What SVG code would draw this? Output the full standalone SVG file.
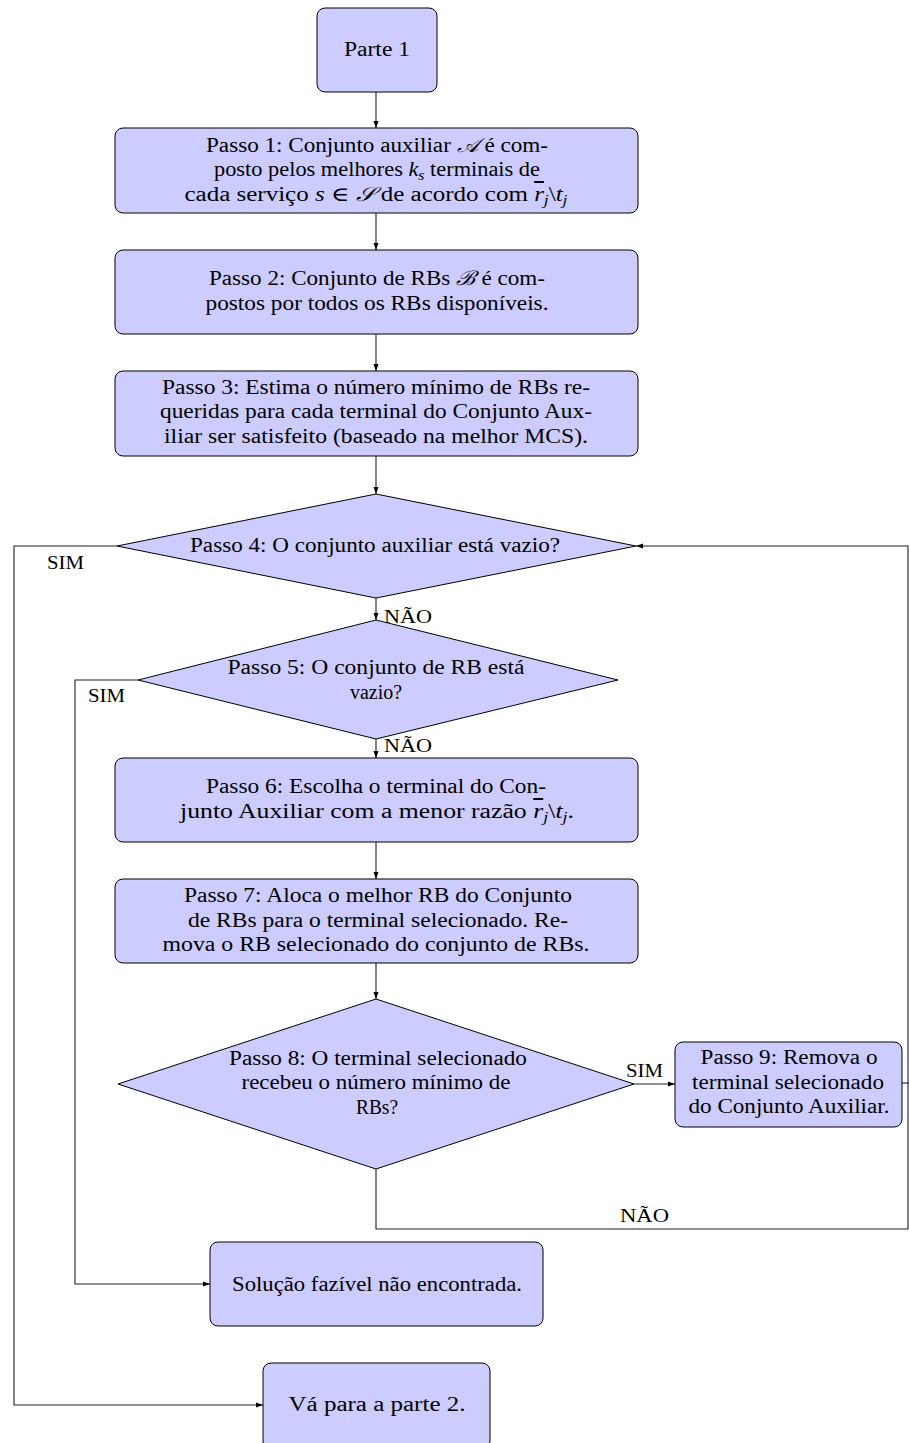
<svg xmlns="http://www.w3.org/2000/svg" width="909" height="1443" viewBox="0 0 909 1443">
<style>
.box{fill:#ccccff;stroke:#000;stroke-width:1}
.t{font-family:"Liberation Serif","DejaVu Serif",serif;font-size:20px;fill:#000;text-anchor:middle}
.l{font-family:"Liberation Serif","DejaVu Serif",serif;font-size:19px;fill:#000}
.c{fill:none;stroke:#222;stroke-width:1.1}
.i{font-style:italic}
.s{font-size:14px;font-style:italic}
</style>
<defs>
<marker id="ah" markerUnits="userSpaceOnUse" markerWidth="7" markerHeight="6" refX="7" refY="3" orient="auto">
<path d="M0,0.5 L7,3 L0,5.5 z" fill="#000"/>
</marker>
</defs>
<rect width="909" height="1443" fill="#fff"/>
<g id="connectors">
<path class="c" d="M376,92 V128" marker-end="url(#ah)"/>
<path class="c" d="M376,213 V250" marker-end="url(#ah)"/>
<path class="c" d="M376,334 V371" marker-end="url(#ah)"/>
<path class="c" d="M376,456 V494" marker-end="url(#ah)"/>
<path class="c" d="M376,598 V620" marker-end="url(#ah)"/>
<path class="c" d="M376,739 V758" marker-end="url(#ah)"/>
<path class="c" d="M376,842 V879" marker-end="url(#ah)"/>
<path class="c" d="M376,963 V999" marker-end="url(#ah)"/>
<path class="c" d="M634,1084 H675" marker-end="url(#ah)"/>
<path class="c" d="M902,1083 H909"/>
<path class="c" d="M376,1169 V1229 H908 V546 H636" marker-end="url(#ah)"/>
<path class="c" d="M117,546 H14 V1405 H263" marker-end="url(#ah)"/>
<path class="c" d="M138,680 H75 V1284 H210" marker-end="url(#ah)"/>
<text class="l" x="47" y="569" textLength="37" lengthAdjust="spacingAndGlyphs">SIM</text>
<text class="l" x="88" y="702" textLength="37" lengthAdjust="spacingAndGlyphs">SIM</text>
<text class="l" x="626" y="1077" textLength="37" lengthAdjust="spacingAndGlyphs">SIM</text>
<text class="l" x="384" y="623" textLength="48" lengthAdjust="spacingAndGlyphs">NÃO</text>
<text class="l" x="384" y="752" textLength="48" lengthAdjust="spacingAndGlyphs">NÃO</text>
<text class="l" x="620" y="1222" textLength="49" lengthAdjust="spacingAndGlyphs">NÃO</text>
</g>
<g id="parte1">
<rect class="box" x="317" y="8" width="120" height="84" rx="8"/>
<text class="t" x="377" y="56" textLength="66" lengthAdjust="spacingAndGlyphs">Parte 1</text>
</g>
<g id="passo1">
<rect class="box" x="115" y="128" width="523" height="85" rx="8"/>
<text class="t" x="377" y="152" textLength="342" lengthAdjust="spacingAndGlyphs">Passo 1: Conjunto auxiliar <tspan class="i">𝒜</tspan> é com-</text>
<text class="t" x="377" y="176" textLength="326" lengthAdjust="spacingAndGlyphs">posto pelos melhores <tspan class="i">k</tspan><tspan class="s" dy="4">s</tspan><tspan dy="-4"> terminais de</tspan></text>
<text class="t" x="376" y="201" textLength="383" lengthAdjust="spacingAndGlyphs">cada serviço <tspan class="i">s</tspan>  ∈  <tspan class="i">𝒮</tspan> de acordo com <tspan class="i" text-decoration="overline">r</tspan><tspan class="s" dy="4">j</tspan><tspan dy="-4">\</tspan><tspan class="i">t</tspan><tspan class="s" dy="4">j</tspan></text>
</g>
<g id="passo2">
<rect class="box" x="115" y="250" width="523" height="84" rx="8"/>
<text class="t" x="377" y="285" textLength="336" lengthAdjust="spacingAndGlyphs">Passo 2: Conjunto de RBs <tspan class="i">ℬ</tspan> é com-</text>
<text class="t" x="377" y="310" textLength="343" lengthAdjust="spacingAndGlyphs">postos por todos os RBs disponíveis.</text>
</g>
<g id="passo3">
<rect class="box" x="115" y="371" width="523" height="85" rx="8"/>
<text class="t" x="376" y="394" textLength="428" lengthAdjust="spacingAndGlyphs">Passo 3: Estima o número mínimo de RBs re-</text>
<text class="t" x="376" y="418" textLength="432" lengthAdjust="spacingAndGlyphs">queridas para cada terminal do Conjunto Aux-</text>
<text class="t" x="376" y="443" textLength="424" lengthAdjust="spacingAndGlyphs">iliar ser satisfeito (baseado na melhor MCS).</text>
</g>
<g id="passo4">
<polygon class="box" points="376,494 636,546 376,598 117,546"/>
<text class="t" x="375" y="552" textLength="370" lengthAdjust="spacingAndGlyphs">Passo 4: O conjunto auxiliar está vazio?</text>
</g>
<g id="passo5">
<polygon class="box" points="376,620 618,680 376,739 138,680"/>
<text class="t" x="376" y="674" textLength="297" lengthAdjust="spacingAndGlyphs">Passo 5: O conjunto de RB está</text>
<text class="t" x="376" y="699" textLength="52" lengthAdjust="spacingAndGlyphs">vazio?</text>
</g>
<g id="passo6">
<rect class="box" x="115" y="758" width="523" height="84" rx="8"/>
<text class="t" x="376" y="793" textLength="340" lengthAdjust="spacingAndGlyphs">Passo 6: Escolha o terminal do Con-</text>
<text class="t" x="377" y="818" textLength="394" lengthAdjust="spacingAndGlyphs">junto Auxiliar com a menor razão <tspan class="i" text-decoration="overline">r</tspan><tspan class="s" dy="4">j</tspan><tspan dy="-4">\</tspan><tspan class="i">t</tspan><tspan class="s" dy="4">j</tspan><tspan dy="-4">.</tspan></text>
</g>
<g id="passo7">
<rect class="box" x="115" y="879" width="523" height="84" rx="8"/>
<text class="t" x="378" y="902" textLength="388" lengthAdjust="spacingAndGlyphs">Passo 7: Aloca o melhor RB do Conjunto</text>
<text class="t" x="378" y="927" textLength="380" lengthAdjust="spacingAndGlyphs">de RBs para o terminal selecionado. Re-</text>
<text class="t" x="376" y="951" textLength="427" lengthAdjust="spacingAndGlyphs">mova o RB selecionado do conjunto de RBs.</text>
</g>
<g id="passo8">
<polygon class="box" points="376,999 634,1084 376,1169 118,1084"/>
<text class="t" x="378" y="1065" textLength="298" lengthAdjust="spacingAndGlyphs">Passo 8: O terminal selecionado</text>
<text class="t" x="376" y="1089" textLength="269" lengthAdjust="spacingAndGlyphs">recebeu o número mínimo de</text>
<text class="t" x="377" y="1114" textLength="42" lengthAdjust="spacingAndGlyphs">RBs?</text>
</g>
<g id="passo9">
<rect class="box" x="675" y="1042" width="227" height="85" rx="8"/>
<text class="t" x="789" y="1064" textLength="177" lengthAdjust="spacingAndGlyphs">Passo 9: Remova o</text>
<text class="t" x="788" y="1089" textLength="192" lengthAdjust="spacingAndGlyphs">terminal selecionado</text>
<text class="t" x="789" y="1113" textLength="201" lengthAdjust="spacingAndGlyphs">do Conjunto Auxiliar.</text>
</g>
<g id="solucao">
<rect class="box" x="210" y="1242" width="333" height="84" rx="8"/>
<text class="t" x="377" y="1291" textLength="290" lengthAdjust="spacingAndGlyphs">Solução fazível não encontrada.</text>
</g>
<g id="parte2">
<rect class="box" x="263" y="1363" width="227" height="86" rx="8"/>
<text class="t" x="377" y="1411" textLength="177" lengthAdjust="spacingAndGlyphs">Vá para a parte 2.</text>
</g>
</svg>
